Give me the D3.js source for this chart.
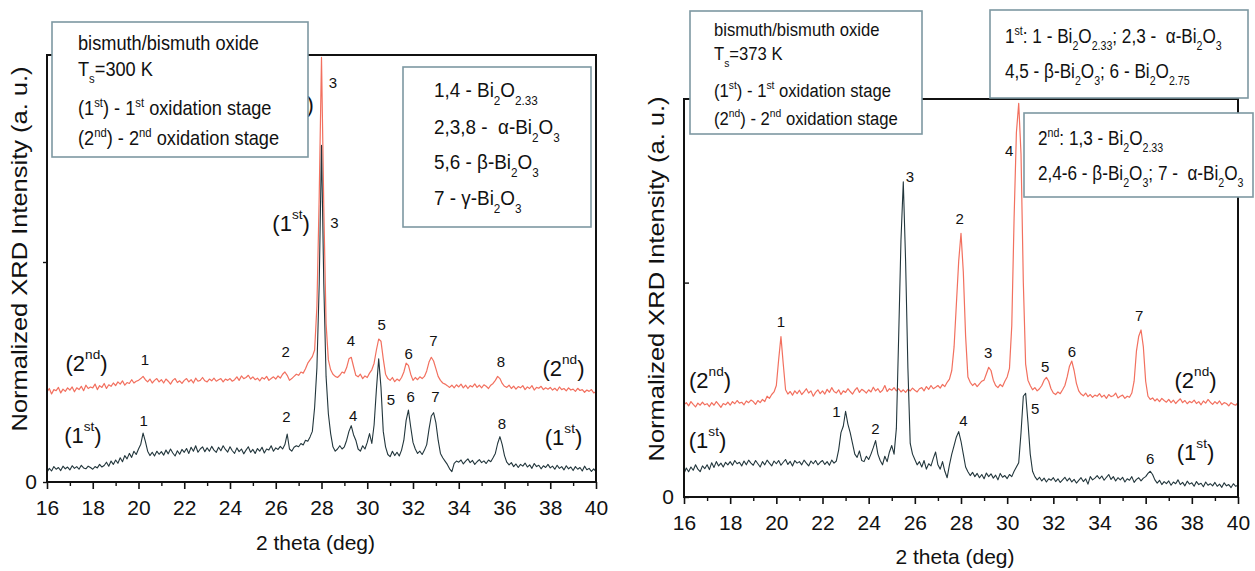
<!DOCTYPE html>
<html><head><meta charset="utf-8">
<script src="https://cdn.jsdelivr.net/npm/d3@7"></script>
<style>
body{margin:0;background:#fff}
svg{display:block;font-family:"Liberation Sans",Arial,Helvetica,sans-serif}
</style>
</head><body>
<svg id="c" width="1255" height="571"></svg>
<script>
// ---------- DATA ----------
// 2-theta sampling (deg)
const theta = [
16.0,16.1,16.2,16.3,16.4,16.5,16.6,16.7,16.8,16.9,
17.0,17.1,17.2,17.3,17.4,17.5,17.6,17.7,17.8,17.9,
18.0,18.1,18.2,18.3,18.4,18.5,18.6,18.7,18.8,18.9,
19.0,19.1,19.2,19.3,19.4,19.5,19.6,19.7,19.8,19.9,
20.0,20.1,20.2,20.3,20.4,20.5,20.6,20.7,20.8,20.9,
21.0,21.1,21.2,21.3,21.4,21.5,21.6,21.7,21.8,21.9,
22.0,22.1,22.2,22.3,22.4,22.5,22.6,22.7,22.8,22.9,
23.0,23.1,23.2,23.3,23.4,23.5,23.6,23.7,23.8,23.9,
24.0,24.1,24.2,24.3,24.4,24.5,24.6,24.7,24.8,24.9,
25.0,25.1,25.2,25.3,25.4,25.5,25.6,25.7,25.8,25.9,
26.0,26.1,26.2,26.3,26.4,26.5,26.6,26.7,26.8,26.9,
27.0,27.1,27.2,27.3,27.4,27.5,27.6,27.7,27.8,27.9,
28.0,28.1,28.2,28.3,28.4,28.5,28.6,28.7,28.8,28.9,
29.0,29.1,29.2,29.3,29.4,29.5,29.6,29.7,29.8,29.9,
30.0,30.1,30.2,30.3,30.4,30.5,30.6,30.7,30.8,30.9,
31.0,31.1,31.2,31.3,31.4,31.5,31.6,31.7,31.8,31.9,
32.0,32.1,32.2,32.3,32.4,32.5,32.6,32.7,32.8,32.9,
33.0,33.1,33.2,33.3,33.4,33.5,33.6,33.7,33.8,33.9,
34.0,34.1,34.2,34.3,34.4,34.5,34.6,34.7,34.8,34.9,
35.0,35.1,35.2,35.3,35.4,35.5,35.6,35.7,35.8,35.9,
36.0,36.1,36.2,36.3,36.4,36.5,36.6,36.7,36.8,36.9,
37.0,37.1,37.2,37.3,37.4,37.5,37.6,37.7,37.8,37.9,
38.0,38.1,38.2,38.3,38.4,38.5,38.6,38.7,38.8,38.9,
39.0,39.1,39.2,39.3,39.4,39.5,39.6,39.7,39.8,39.9,
40.0];

// Ts = 300 K, 1st oxidation stage (normalized intensity, x1000)
const left1st = [
45,62,50,70,58,66,52,72,60,68,
55,74,62,70,58,76,64,60,72,66,
58,70,64,80,68,75,90,72,95,80,
100,85,110,92,120,105,130,112,140,125,
150,172,222,185,140,120,135,118,140,126,
138,122,145,128,150,132,118,142,126,148,
135,152,130,158,140,165,135,150,160,138,
155,140,162,145,135,158,142,165,148,136,
160,142,130,155,138,150,128,145,160,135,
148,130,152,140,158,132,150,145,165,140,
155,148,162,150,170,218,150,140,158,165,
160,175,168,190,185,205,230,340,520,900,
1530,900,480,310,220,160,140,150,165,150,
160,190,230,256,215,190,150,140,165,150,
180,220,175,260,420,560,430,230,160,125,
115,140,120,135,118,145,190,280,327,250,
180,150,130,140,125,145,170,240,300,315,
270,190,130,110,95,80,60,47,85,95,
90,100,82,95,105,88,98,80,92,102,
88,96,84,100,92,110,130,175,206,170,
120,90,78,88,70,82,66,80,72,86,
68,78,62,84,70,76,60,74,66,80,
64,72,58,76,62,70,55,74,60,68,
52,70,58,66,50,72,56,62,48,60,
47];

// Ts = 300 K, 2nd oxidation stage
const left2nd = [
410,425,400,420,415,430,405,422,412,428,
418,432,410,428,420,435,415,440,425,432,
428,445,420,438,430,448,425,442,435,450,
438,455,445,460,440,452,448,465,450,458,
462,470,480,465,455,468,450,462,470,455,
465,450,468,458,445,462,470,452,460,448,
462,470,455,465,450,472,458,462,475,460,
455,468,460,472,458,465,470,455,468,462,
470,458,465,478,462,482,470,475,485,468,
478,465,472,460,475,468,480,462,470,478,
468,482,472,490,500,485,462,470,480,490,
485,500,495,515,540,555,570,600,800,1300,
1930,1250,720,555,510,490,480,475,485,500,
495,520,560,567,525,485,478,490,470,482,
475,495,510,540,600,650,640,560,490,470,
462,475,456,468,460,475,500,540,530,490,
462,475,465,478,470,480,505,545,567,550,
515,480,462,450,445,438,430,440,428,442,
432,445,428,440,425,438,432,446,430,440,
428,442,435,425,440,448,462,480,470,448,
435,430,440,425,436,422,434,428,438,420,
432,425,438,418,430,426,435,420,428,422,
430,418,426,415,432,420,425,414,428,418,
422,412,426,416,420,408,418,412,420,405,
410];

// Ts = 373 K, 1st oxidation stage
const right1st = [
110,135,118,140,125,150,130,118,145,132,
150,128,160,138,165,145,158,140,162,150,
165,148,170,155,162,145,168,150,172,158,
148,170,155,140,165,150,172,158,145,168,
155,170,148,162,175,152,166,145,170,158,
165,150,172,158,145,168,155,170,150,162,
170,152,165,148,172,158,168,220,300,330,
400,340,300,250,200,185,215,170,165,190,
175,200,230,263,200,170,150,190,165,210,
240,200,320,750,1200,1470,1100,600,250,200,
175,150,165,140,170,130,155,145,180,210,
150,130,165,120,90,150,200,240,280,305,
260,200,140,118,100,115,95,110,90,105,
85,112,95,108,88,102,80,110,92,100,
86,105,95,120,140,160,300,470,484,350,
200,120,95,80,92,75,88,70,85,78,
90,72,85,68,80,92,75,88,70,82,
65,78,90,72,85,60,95,80,88,100,
85,98,78,92,105,82,95,75,90,80,
92,70,85,78,95,68,82,90,75,88,
95,110,120,105,80,65,78,58,72,62,
75,55,70,62,80,58,68,52,74,60,
66,50,72,58,64,48,70,55,62,52,
68,50,60,45,66,52,58,44,62,50,
55];

// Ts = 373 K, 2nd oxidation stage
const right2nd = [
430,440,425,445,432,420,438,428,442,430,
435,422,440,428,445,432,418,436,430,442,
428,445,435,450,438,442,430,448,440,452,
445,432,450,440,455,445,470,460,478,490,
520,640,748,620,500,480,492,475,495,482,
498,478,490,505,485,495,470,488,500,482,
495,480,502,488,510,492,485,500,478,495,
488,505,492,480,498,510,488,502,495,485,
500,490,512,495,505,488,498,520,492,505,
498,510,495,505,490,500,488,502,495,508,
498,490,505,510,495,515,502,520,505,512,
520,508,525,515,535,550,590,700,900,1100,
1230,1050,750,560,535,520,530,515,528,540,
545,575,605,590,545,520,510,525,515,540,
560,600,800,1300,1700,1836,1600,1000,620,545,
520,500,510,495,505,520,545,558,540,505,
485,478,490,482,500,520,560,610,634,590,
530,495,480,472,485,468,478,465,475,470,
482,466,475,460,478,468,472,485,462,470,
475,460,470,465,485,540,680,750,779,700,
540,470,455,462,448,458,445,460,450,442,
455,440,452,436,448,458,440,450,435,446,
440,452,436,445,430,448,438,455,442,432,
445,435,448,430,440,436,425,440,432,428,
440];

const xMajorTicks = [16,18,20,22,24,26,28,30,32,34,36,38,40];
const xMinorTicks = [17,19,21,23,25,27,29,31,33,35,37,39];
const yTicks = [0,1000];

// peak labels: [text, theta, intensity]
const leftLabels2nd = [["1",20.28,559],["2",26.43,591],["3",28.5,1814],["4",29.29,641],["5",30.63,718],["6",31.81,582],["7",32.89,645],["8",35.84,550]];
const leftLabels1st = [["1",20.23,279],["2",26.47,297],["3",28.57,1179],["4",29.38,301],["5",31.04,377],["6",31.9,388],["7",32.98,388],["8",35.89,264]];
const rightLabels2nd = [["1",20.2,818],["2",27.94,1300],["3",29.18,673],["4",30.09,1618],["5",31.65,611],["6",32.81,678],["7",35.72,846]];
const rightLabels1st = [["1",22.6,398],["2",24.29,320],["3",25.79,1494],["4",28.11,356],["5",31.21,414],["6",36.2,180]];
// curve tags: [stage, theta, intensity]
const leftTags = [["2nd",17.73,541],["1st",17.57,214],["2nd",38.58,518],["1st",38.58,205],["1st",26.67,1177]];
const rightTags = [["2nd",17.13,546],["1st",17.02,266],["2nd",38.16,546],["1st",38.16,211]];
// the visible end of a tag hidden behind the left legend box
const leftHiddenTagEnd = [[")",27.5,1715]];

const xTitle = "2 theta (deg)";
const yTitle = "Normalized XRD Intensity (a. u.)";

// ---------- DRAWING ----------
const RED = "#f2705f", DARK = "#22363c", BOXC = "#7d98a2";
const svg = d3.select("#c");

function rich(sel, parts, fs) {
  let shift = 0;
  parts.forEach(p => {
    let t, target, size;
    if (typeof p === "string") { t = p; target = 0; size = fs; }
    else if (p.sup !== undefined) { t = p.sup; target = -0.42 * fs; size = 0.62 * fs; }
    else { t = p.sub; target = 0.36 * fs; size = 0.62 * fs; }
    sel.append("tspan").attr("dy", target - shift).attr("font-size", size).text(t);
    shift = target;
  });
}

function panel(c) {
  const x = d3.scaleLinear().domain([16, 40]).range([c.x0, c.x1]);
  const y = d3.scaleLinear().domain([0, 1000]).range([c.y0, c.y1000]);
  const g = svg.append("g");
  const line = d3.line().x((d, i) => x(theta[i])).y(d => y(d));

  c.tags.forEach(t => {
    const tx = g.append("text").attr("x", x(t[1])).attr("y", y(t[2]))
      .attr("text-anchor", "middle").attr("dominant-baseline", "central")
      .attr("fill", "#111").style("white-space", "pre");
    rich(tx, ["(" + t[0][0], { sup: t[0].slice(1) }, ")"], 22);
  });
  (c.hidden || []).forEach(t => {
    g.append("text").attr("x", x(t[1])).attr("y", y(t[2]))
      .attr("text-anchor", "middle").attr("dominant-baseline", "central")
      .attr("font-size", 22).attr("fill", "#111").text(t[0]);
  });

  g.append("path").datum(c.second).attr("d", line).attr("fill", "none")
    .attr("stroke", RED).attr("stroke-width", 1.2).attr("stroke-linejoin", "round");
  g.append("path").datum(c.first).attr("d", line).attr("fill", "none")
    .attr("stroke", DARK).attr("stroke-width", 1.1).attr("stroke-linejoin", "round");

  const ax = g.append("g").attr("transform", `translate(0,${c.y0})`)
    .call(d3.axisBottom(x).tickValues(xMajorTicks).tickSize(7).tickPadding(11).tickFormat(d3.format("d")));
  ax.select(".domain").remove();
  ax.selectAll("line").attr("stroke", "#111").attr("stroke-width", 1.6);
  ax.selectAll("text").attr("font-size", 21).attr("fill", "#111")
    .attr("font-family", '"Liberation Sans",Arial,sans-serif');
  const mx = g.append("g").attr("transform", `translate(0,${c.y0})`)
    .call(d3.axisBottom(x).tickValues(xMinorTicks).tickSize(4).tickFormat(""));
  mx.select(".domain").remove();
  mx.selectAll("line").attr("stroke", "#111").attr("stroke-width", 1.4);

  const ay = g.append("g").attr("transform", `translate(${c.x0},0)`)
    .call(d3.axisLeft(y).tickValues(yTicks).tickSize(4).tickPadding(6).tickFormat(d => d === 0 ? "0" : ""));
  ay.select(".domain").remove();
  ay.selectAll("line").attr("stroke", "#111").attr("stroke-width", 1.4).attr("x2", c.yTickIn ? 5 : -4);
  ay.selectAll("text").attr("font-size", 21).attr("fill", "#111")
    .attr("font-family", '"Liberation Sans",Arial,sans-serif');

  g.append("rect").attr("x", c.x0).attr("y", c.yTop).attr("width", c.x1 - c.x0)
    .attr("height", c.y0 - c.yTop).attr("fill", "none").attr("stroke", "#111").attr("stroke-width", 2);

  g.append("text").attr("x", (c.x0 + c.x1) / 2 - 6).attr("y", c.xTitleY)
    .attr("text-anchor", "middle").attr("dominant-baseline", "central")
    .attr("font-size", 21).attr("fill", "#111").text(xTitle);
  g.append("text").attr("transform", `translate(${c.yTitleX},${c.yTitleY}) rotate(-90)`)
    .attr("text-anchor", "middle").attr("dominant-baseline", "central")
    .attr("font-size", 22).attr("fill", "#111")
    .attr("textLength", 365).attr("lengthAdjust", "spacingAndGlyphs").text(yTitle);

  [...c.lab2, ...c.lab1].forEach(l => {
    g.append("text").attr("x", x(l[1])).attr("y", y(l[2]))
      .attr("text-anchor", "middle").attr("dominant-baseline", "central")
      .attr("font-size", 15).attr("fill", "#111").text(l[0]);
  });
}

panel({ x0: 47, x1: 596, y0: 482, y1000: 262, yTop: 55, first: left1st, second: left2nd,
  lab1: leftLabels1st, lab2: leftLabels2nd, tags: leftTags, hidden: leftHiddenTagEnd,
  xTitleY: 542, yTitleX: 19, yTitleY: 249 });
panel({ x0: 684, x1: 1238, y0: 497, y1000: 282.6, yTop: 99, first: right1st, second: right2nd,
  lab1: rightLabels1st, lab2: rightLabels2nd, tags: rightTags,
  xTitleY: 556, yTitleX: 656, yTitleY: 279, yTickIn: true });

// text boxes
function box(b) {
  const g = svg.append("g");
  g.append("rect").attr("x", b.x).attr("y", b.y).attr("width", b.w).attr("height", b.h)
    .attr("fill", "#fff").attr("stroke", BOXC).attr("stroke-width", 1.6);
  b.lines.forEach((ln, i) => {
    const t = g.append("text").attr("x", 0).attr("y", 0)
      .attr("transform", `translate(${b.tx},${b.base[i]}) scale(${b.sx},1)`)
      .attr("fill", "#111").style("white-space", "pre");
    rich(t, ln, b.fs);
  });
}
const sub = s => ({ sub: s }), sup = s => ({ sup: s });
box({ x: 52, y: 22, w: 256, h: 135, tx: 78, fs: 20, sx: 0.91, base: [50, 76, 115, 145], lines: [
  ["bismuth/bismuth oxide"],
  ["T", sub("s"), "=300 K"],
  ["(1", sup("st"), ") - 1", sup("st"), " oxidation stage"],
  ["(2", sup("nd"), ") - 2", sup("nd"), " oxidation stage"]] });
box({ x: 403, y: 67, w: 188, h: 160, tx: 434, fs: 21, sx: 0.9, base: [97, 134, 169, 205], lines: [
  ["1,4 - Bi", sub("2"), "O", sub("2.33")],
  ["2,3,8 -  α-Bi", sub("2"), "O", sub("3")],
  ["5,6 - β-Bi", sub("2"), "O", sub("3")],
  ["7 - γ-Bi", sub("2"), "O", sub("3")]] });
box({ x: 690, y: 11, w: 232, h: 123, tx: 714, fs: 18.5, sx: 0.9, base: [36, 60, 97, 125], lines: [
  ["bismuth/bismuth oxide"],
  ["T", sub("s"), "=373 K"],
  ["(1", sup("st"), ") - 1", sup("st"), " oxidation stage"],
  ["(2", sup("nd"), ") - 2", sup("nd"), " oxidation stage"]] });
box({ x: 990, y: 10, w: 258, h: 88, tx: 1005, fs: 19.5, sx: 0.88, base: [43, 78], lines: [
  ["1", sup("st"), ": 1 - Bi", sub("2"), "O", sub("2.33"), "; 2,3 -  α-Bi", sub("2"), "O", sub("3")],
  ["4,5 - β-Bi", sub("2"), "O", sub("3"), "; 6 - Bi", sub("2"), "O", sub("2.75")]] });
box({ x: 1024, y: 113, w: 229, h: 84, tx: 1038, fs: 19.5, sx: 0.88, base: [145, 180], lines: [
  ["2", sup("nd"), ": 1,3 - Bi", sub("2"), "O", sub("2.33")],
  ["2,4-6 - β-Bi", sub("2"), "O", sub("3"), "; 7 -  α-Bi", sub("2"), "O", sub("3")]] });
</script>
</body></html>
